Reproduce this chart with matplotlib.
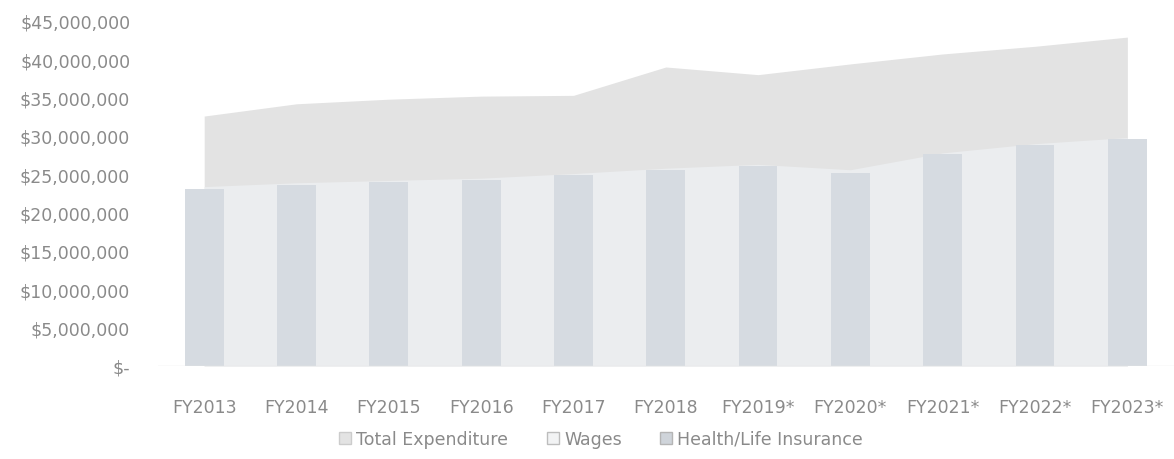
import numpy as np
import matplotlib
matplotlib.use('Agg')
import matplotlib.pyplot as plt
from matplotlib.patches import Patch
from matplotlib.ticker import FuncFormatter

# Fiscal years
years = ['FY2013', 'FY2014', 'FY2015', 'FY2016', 'FY2017', 'FY2018',
         'FY2019*', 'FY2020*', 'FY2021*', 'FY2022*', 'FY2023*']

# Values in dollars
total_exp = [32.6e6, 34.2e6, 34.8e6, 35.2e6, 35.3e6, 39.0e6,
             38.0e6, 39.4e6, 40.7e6, 41.7e6, 42.9e6]
wages = [23.4e6, 23.9e6, 24.2e6, 24.5e6, 25.1e6, 25.8e6,
         26.3e6, 25.6e6, 27.8e6, 29.0e6, 29.8e6]
health_life = [23.1e6, 23.6e6, 24.0e6, 24.3e6, 24.9e6, 25.6e6,
               26.1e6, 25.2e6, 27.6e6, 28.8e6, 29.6e6]

x = np.arange(len(years))

fig = plt.figure(figsize=(11.74, 4.6), dpi=100)
ax = fig.add_axes([0.1346, 0.2022, 0.865, 0.75])

# Areas first, then the bars in front
ax.fill_between(x, total_exp, color='#e3e3e3', linewidth=0, zorder=1)
ax.fill_between(x, wages, color='#ebedef', linewidth=0, zorder=2)
ax.bar(x, health_life, width=0.42, color='#d6dbe1', edgecolor='none', zorder=3)

ax.set_xlim(-0.5, len(years) - 0.5)
ax.set_ylim(0, 45e6)
ax.set_yticks(np.arange(0, 45e6 + 1, 5e6))


def money(v, pos):
    if v == 0:
        return '$-'
    return '${:,.0f}'.format(v)


ax.yaxis.set_major_formatter(FuncFormatter(money))
ax.set_xticks(x)
ax.set_xticklabels(years)
ax.tick_params(axis='both', length=0, labelsize=12.5, labelcolor='#8a8a8a')
ax.tick_params(axis='y', pad=20)
ax.tick_params(axis='x', pad=23)

for s in ax.spines.values():
    s.set_visible(False)
ax.axhline(0, color='#e6e6e6', linewidth=1, zorder=4)

# Legend below the chart
handles = [Patch(facecolor='#e3e3e3', edgecolor='#cccccc', label='Total Expenditure'),
           Patch(facecolor='#f2f3f4', edgecolor='#bdbdbd', label='Wages'),
           Patch(facecolor='#cfd4da', edgecolor='#b5b5b5', label='Health/Life Insurance')]
fig.legend(handles=handles, loc='center', bbox_to_anchor=(0.512, 0.044), ncol=3,
           frameon=False, fontsize=12.5, labelcolor='#8a8a8a',
           handlelength=0.7, handleheight=0.7, handletextpad=0.3, columnspacing=2.2)

fig.savefig('out.png', dpi=100, facecolor='white')
